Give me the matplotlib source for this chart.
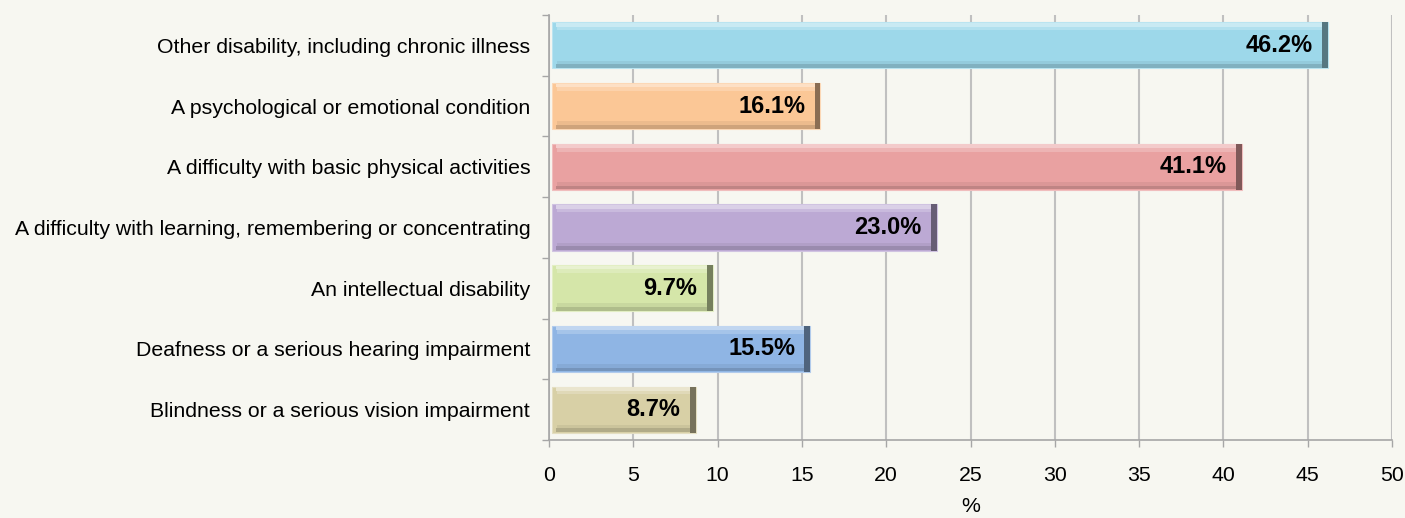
import numpy as np
import matplotlib.pyplot as plt
from matplotlib.colors import to_rgb

plt.rcParams['font.family'] = ['Liberation Sans', 'DejaVu Sans']

categories = ['Other disability, including chronic illness',
              'A psychological or emotional condition',
              'A difficulty with basic physical activities',
              'A difficulty with learning, remembering or concentrating',
              'An intellectual disability',
              'Deafness or a serious hearing impairment',
              'Blindness or a serious vision impairment']
values = [46.2, 16.1, 41.1, 23.0, 9.7, 15.5, 8.7]
colors = ['#9DD8EA', '#FBC796', '#E9A1A1', '#BCA9D4', '#D5E6A9', '#8FB5E4', '#D8D0A6']
xticks = [0, 5, 10, 15, 20, 25, 30, 35, 40, 45, 50]

bg = '#F7F7F1'
fig = plt.figure(figsize=(14.05, 5.18), dpi=100, facecolor=bg)
ax = fig.add_axes([549/1405, 1-440/518, (1392-549)/1405, 425/518])
ax.set_facecolor(bg)

y = np.arange(len(categories))[::-1]
h = 0.76
x0 = 0.15

def shade(c, f):
    r = np.array(to_rgb(c))
    if f > 0:
        return tuple(r + (1 - r) * f)
    return tuple(r * (1 + f))

for yi, v, c in zip(y, values, colors):
    w = v - x0
    ax.barh(yi, w, left=x0, height=h, color=c, edgecolor=shade(c, 0.3), linewidth=0.8, zorder=3)
    # bevel: light top, dark bottom, dark right end
    ax.barh(yi + h/2 - 0.04, w - 0.5, left=x0 + 0.25, height=0.06, color=shade(c, 0.45), linewidth=0, zorder=4)
    ax.barh(yi + h/2 - 0.1, w - 0.7, left=x0 + 0.35, height=0.06, color=shade(c, 0.2), linewidth=0, zorder=4)
    ax.barh(yi - h/2 + 0.1, w - 0.7, left=x0 + 0.35, height=0.06, color=shade(c, -0.06), linewidth=0, zorder=4)
    ax.barh(yi - h/2 + 0.04, w - 0.5, left=x0 + 0.25, height=0.06, color=shade(c, -0.18), linewidth=0, zorder=4)
    ax.barh(yi, 0.35, left=v - 0.35, height=h, color=shade(c, -0.45), linewidth=0, zorder=4)
    ax.text(v - 0.9, yi, f'{v:.1f}%', ha='right', va='center', fontsize=17,
            fontweight='bold', color='black', zorder=5)

ax.set_xlim(0, 50)
ax.set_ylim(-0.5, len(categories) - 0.5)
ax.set_xticks(xticks)
ax.set_yticks(y)
ax.set_yticklabels(categories, fontsize=15.3)
ax.set_yticks(np.arange(-0.5, len(categories)), minor=True)
ax.tick_params(axis='y', which='major', length=0, pad=13.5)
ax.tick_params(axis='y', which='minor', length=5, color='#A6A6A6', width=1)
ax.tick_params(axis='x', length=5, color='#A6A6A6', width=1, labelsize=15.3, pad=14)
ax.grid(axis='x', color='#C0C0C0', linewidth=1.5, zorder=0)
for s in ['top', 'right']:
    ax.spines[s].set_visible(False)
for s in ['left', 'bottom']:
    ax.spines[s].set_color('#A6A6A6')
    ax.spines[s].set_linewidth(1.2)
ax.set_xlabel('%', fontsize=15.3, labelpad=8)

plt.savefig('out.png', dpi=100, facecolor=bg)
